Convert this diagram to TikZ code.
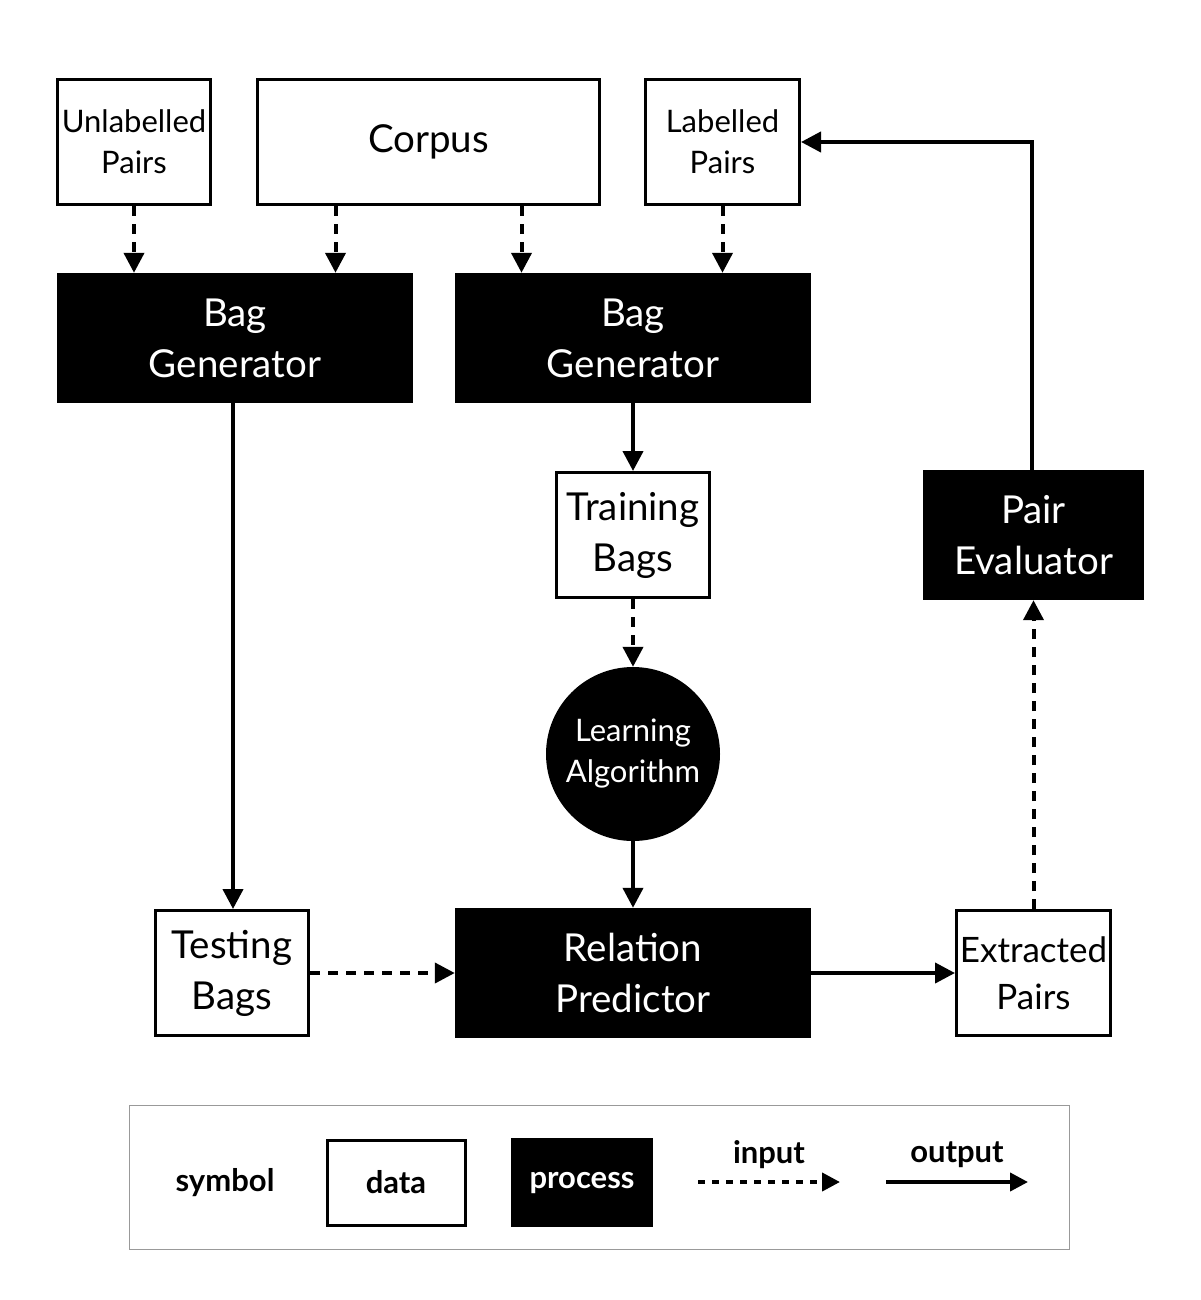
\documentclass[tikz,border=0pt]{standalone}
\usepackage{fontspec}
\setmainfont{Lato}
\usetikzlibrary{arrows.meta,calc}
\begin{document}
\begin{tikzpicture}[x=1pt,y=-1pt,
  datab/.style={draw, line width=3pt, fill=white, align=center, inner sep=0pt},
  procb/.style={fill=black, text=white, align=center, inner sep=0pt},
  inarrow/.style={line width=4pt, dash pattern=on 10pt off 8pt, -{Triangle[length=20pt,width=20pt]}},
  outarrow/.style={line width=4pt, -{Triangle[length=20pt,width=20pt]}},
  f36/.style={font=\fontsize{38.5}{51}\selectfont},
  f32/.style={font=\fontsize{35}{47}\selectfont},
  f28/.style={font=\fontsize{31}{41}\selectfont},
  leg/.style={font=\fontsize{31}{34}\selectfont\bfseries}]
\useasboundingbox (0,0) rectangle (1200,1300);
% top data
\node[datab,f28,minimum width=153pt,minimum height=125pt] (ul) at (134,142) {Unlabelled\\Pairs};
\node[datab,f36,minimum width=342pt,minimum height=125pt] (corpus) at (428.5,142) {Corpus};
\node[datab,f28,minimum width=154pt,minimum height=125pt] (lp) at (722.5,142) {Labelled\\Pairs};
% bag generators
\node[procb,f36,minimum width=356pt,minimum height=130pt] (bg1) at (235,338) {Bag\\Generator};
\node[procb,f36,minimum width=356pt,minimum height=130pt] (bg2) at (633,338) {Bag\\Generator};
% middle
\node[datab,f36,minimum width=153pt,minimum height=125pt] (tb) at (633,535) {Training\\Bags};
\node[circle,fill=black,text=white,align=center,inner sep=0pt,minimum size=174pt,f28] (la) at (633,754) {Learning\\Algorithm};
\node[procb,f36,minimum width=221pt,minimum height=130pt] (pe) at (1033.5,535) {Pair\\Evaluator};
% bottom
\node[datab,f36,minimum width=153pt,minimum height=125pt] (teb) at (232,973) {Testing\\Bags};
\node[procb,f36,minimum width=356pt,minimum height=130pt] (rp) at (633,973) {Relation\\Predictor};
\node[datab,f32,minimum width=154pt,minimum height=125pt] (ep) at (1033.5,973) {Extracted\\Pairs};
% arrows
\draw[inarrow] (ul.south) -- (ul.south |- bg1.north);
\draw[inarrow] ([xshift=-93pt]corpus.south) -- ([xshift=-93pt]corpus.south |- bg1.north);
\draw[inarrow] ([xshift=93pt]corpus.south) -- ([xshift=93pt]corpus.south |- bg2.north);
\draw[inarrow] (lp.south) -- (lp.south |- bg2.north);
\draw[outarrow] ([xshift=-2pt]bg1.south) -- ([xshift=-2pt]bg1.south |- teb.north);
\draw[outarrow] (bg2.south) -- (tb.north);
\draw[inarrow] (tb.south) -- (la.north);
\draw[outarrow] (la.south) -- (rp.north);
\draw[inarrow] (teb.east) -- (rp.west);
\draw[outarrow] (rp.east) -- (ep.west);
\draw[inarrow] (ep.north) -- (pe.south);
\draw[outarrow] ([xshift=-1.5pt]pe.north) |- (lp.east);
% legend
\node[draw=black!40, line width=1.5pt, minimum width=940pt, minimum height=144pt, inner sep=0pt] (frame) at (599.5,1177.5) {};
\node[leg] (sym) at (225,1183) {symbol};
\node[datab,leg,minimum width=138pt,minimum height=85pt] (ld) at (396,1182.5) {data};
\node[procb,leg,minimum width=142pt,minimum height=89pt] (lpr) at (582,1182.5) {process};
\coordinate (ia) at (698,1182);
\coordinate (ib) at (840,1182);
\draw[inarrow, dash pattern=on 7pt off 7pt, line width=4pt, -{Triangle[length=18pt,width=18pt]}] (ia) -- (ib);
\node[leg] (lin) at (769,1155) {input};
\coordinate (oa) at (886,1182);
\coordinate (ob) at (1028,1182);
\draw[outarrow, line width=4pt, -{Triangle[length=18pt,width=18pt]}] (oa) -- (ob);
\node[leg] (lout) at (957,1155) {output};
\end{tikzpicture}
\end{document}
